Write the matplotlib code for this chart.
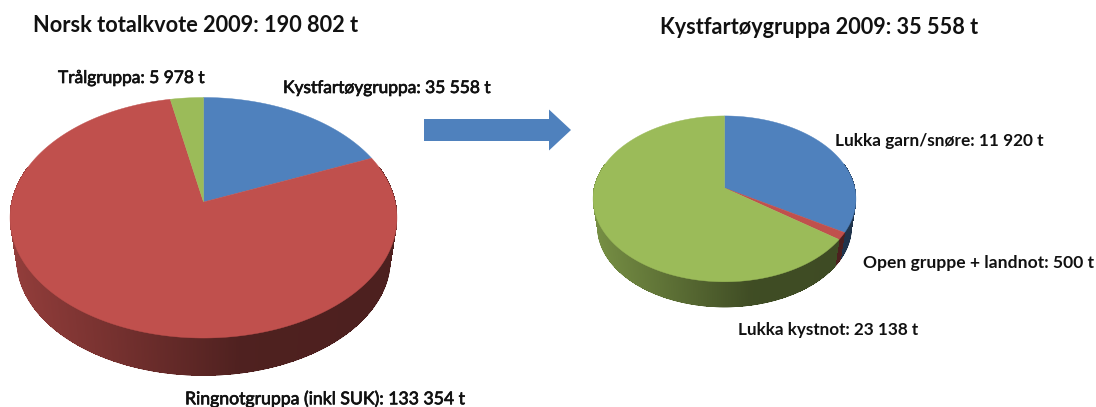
import numpy as np
import matplotlib
matplotlib.use("Agg")
import matplotlib.pyplot as plt
import matplotlib.patheffects as pe

plt.rcParams['font.family'] = ['Lato', 'DejaVu Sans']

# left pie (the red slice is drawn as the rest of the 190 802 t total)
left_values = [35558, 149266, 5978]
left_colors = ["#4F81BD", "#C0504D", "#9BBB59"]

# right pie
right_values = [11920, 500, 23138]
right_colors = ["#4F81BD", "#C0504D", "#9BBB59"]

left_title = "Norsk totalkvote 2009: 190 802 t"
right_title = "Kystfartøygruppa 2009: 35 558 t"
left_labels = ["Kystfartøygruppa: 35 558 t", "Ringnotgruppa (inkl SUK): 133 354 t", "Trålgruppa: 5 978 t"]
right_labels = ["Lukka garn/snøre: 11 920 t", "Open gruppe + landnot: 500 t", "Lukka kystnot: 23 138 t"]

fig = plt.figure(figsize=(10.96, 4.07), dpi=100)
ax = fig.add_axes([0, 0, 1, 1])
ax.set_xlim(0, 1096)
ax.set_ylim(407, 0)
ax.axis("off")


def ring(t, cx, cy, a, b, k=0.131):
    # t is clockwise from the top, circle seen in perspective
    u, v = np.sin(t), np.cos(t)
    w = 1 + k * v
    return cx + a * u / w, cy - b * v / w


def shade(x, cx, a):
    return np.interp((x - cx) / a, [-1, -0.5, 0, 0.2, 1], [0.76, 0.62, 0.47, 0.41, 0.40])


def pie3d(values, colors, cx, cy, a, b, depth, scale=0.965):
    values = np.array(values, dtype=float)
    edges = np.concatenate([[0], np.cumsum(values) / values.sum()]) * 2 * np.pi

    # side wall first, strip by strip so the shading runs across it
    for i, c in enumerate(colors):
        base = np.array(matplotlib.colors.to_rgb(c))
        t = np.arange(edges[i], edges[i + 1] + 0.004, 0.004)
        t = t[(t > np.pi * 0.4) & (t < np.pi * 1.6)]
        for t0, t1 in zip(t[:-1], t[1:]):
            x0, y0 = ring(t0, cx, cy, a, b)
            x1, y1 = ring(t1, cx, cy, a, b)
            x2, y2 = ring(t1, cx, cy + depth, a * scale, b * scale)
            x3, y3 = ring(t0, cx, cy + depth, a * scale, b * scale)
            col = base * shade(x0, cx, a)
            ax.fill([x0, x1, x2, x3], [y0, y1, y2, y3], color=col, lw=0, antialiased=False, zorder=2)
            # smooth the jagged lower rim
            ax.plot([x2, x3], [y2, y3], color=col, lw=0.7, solid_capstyle="round", zorder=2)

    # top surface
    for i, c in enumerate(colors):
        t = np.linspace(edges[i], edges[i + 1], 300)
        x, y = ring(t, cx, cy, a, b)
        ax.fill(np.r_[cx, x], np.r_[cy, y], color=c, lw=0.3, zorder=3)


pie3d(left_values, left_colors, 203.5, 202, 191.8, 118.2, 42)
pie3d(right_values, right_colors, 724.5, 188, 130.3, 81.5, 28.3)

# arrow between the pies
ax.arrow(424, 130, 147, 0, width=22, head_width=41, head_length=22,
         length_includes_head=True, color="#4F81BD", lw=0, zorder=3)

ax.text(33, 25, left_title, fontsize=15.7, fontweight="bold", color="#111111", va="center")
ax.text(660, 27, right_title, fontsize=15.6, fontweight="bold", color="#111111", va="center")

# left labels are a bit heavier than regular Lato
thick = [pe.withStroke(linewidth=0.5, foreground="#111111")]
ax.text(283, 88, left_labels[0], fontsize=12.5, color="#111111", va="center", path_effects=thick)
ax.text(185, 399, left_labels[1], fontsize=12.7, color="#111111", va="center", path_effects=thick)
ax.text(58, 78, left_labels[2], fontsize=12.5, color="#111111", va="center", path_effects=thick)

ax.text(835, 141, right_labels[0], fontsize=12.4, fontweight="bold", color="#111111", va="center")
ax.text(863, 263, right_labels[1], fontsize=12.6, fontweight="bold", color="#111111", va="center")
ax.text(738, 330, right_labels[2], fontsize=12.3, fontweight="bold", color="#111111", va="center")

fig.savefig("out.png", dpi=100)
